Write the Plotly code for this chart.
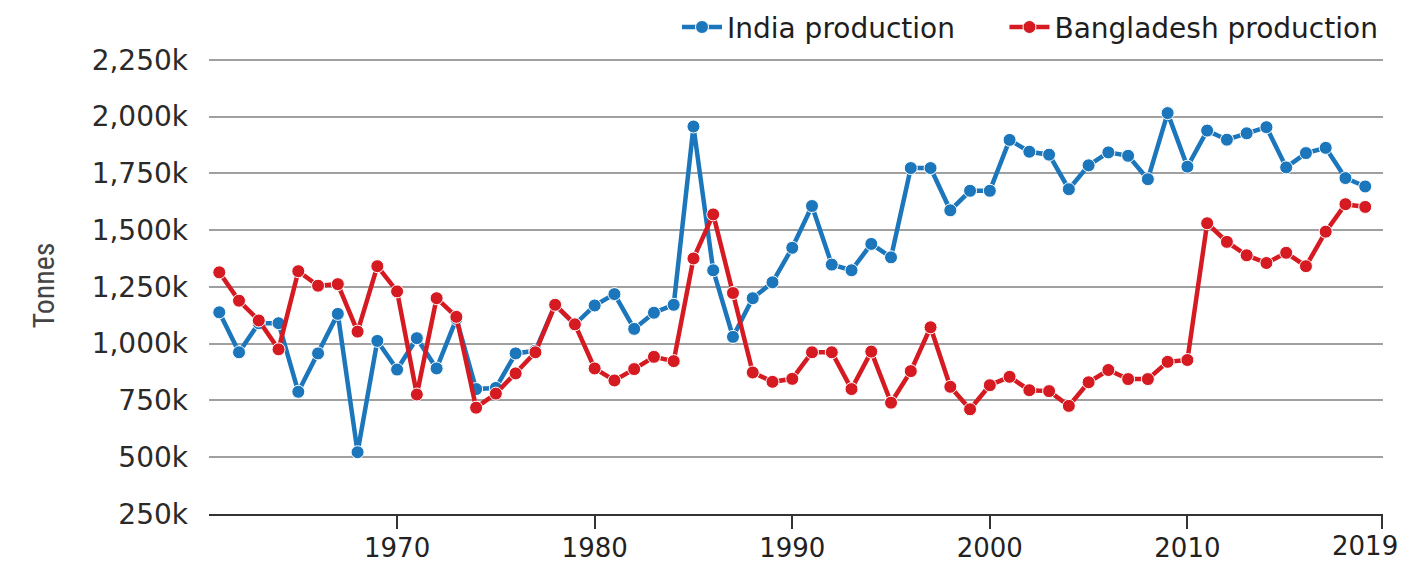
import plotly.graph_objects as go

years = list(range(1961, 2020))

india_k = [1138, 962, 1090, 1090, 788, 957, 1131, 522, 1012, 886,
           1024, 891, 1109, 800, 805, 957, 969, 1171, 1085, 1168,
           1218, 1065, 1136, 1171, 1956, 1323, 1030, 1200, 1270, 1422,
           1606, 1348, 1323, 1439, 1380, 1773, 1773, 1587, 1673, 1673,
           1897, 1845, 1832, 1680, 1785, 1842, 1827, 1724, 2015, 1779,
           1938, 1898, 1926, 1953, 1776, 1839, 1862, 1729, 1692]

bangladesh_k = [1314, 1189, 1102, 975, 1319, 1255, 1262, 1053, 1341, 1230,
                776, 1200, 1118, 718, 780, 869, 962, 1171, 1085, 891,
                838, 888, 942, 923, 1375, 1569, 1223, 873, 832, 845,
                962, 962, 800, 965, 740, 879, 1072, 810, 711, 817,
                854, 795, 791, 726, 830, 884, 844, 844, 920, 928,
                1530, 1448, 1389, 1355, 1400, 1341, 1493, 1614, 1602]

india = [v * 1000 for v in india_k]
bangladesh = [v * 1000 for v in bangladesh_k]

y_ticks = [250000, 500000, 750000, 1000000, 1250000, 1500000, 1750000, 2000000, 2250000]
y_labels = ["250k", "500k", "750k", "1,000k", "1,250k", "1,500k", "1,750k", "2,000k", "2,250k"]
y_range = [250000, 2262000]

x_range = [1960.48, 2019.9]
x_ticks = [1970, 1980, 1990, 2000, 2010, 2019.87]
x_labels = ["1970", "1980", "1990", "2000", "2010", ""]
last_label = "2019"

blue = "#1b76bb"
red = "#d61a22"

pad = "\u00a0" * 5

fig = go.Figure()
fig.add_trace(go.Scatter(
    x=years, y=india, name="India production" + pad, mode="lines+markers",
    line=dict(color=blue, width=4.5),
    marker=dict(color=blue, size=13, line=dict(color="white", width=1)),
))
fig.add_trace(go.Scatter(
    x=years, y=bangladesh, name="Bangladesh production", mode="lines+markers",
    line=dict(color=red, width=4.5),
    marker=dict(color=red, size=13, line=dict(color="white", width=1)),
))

# page body has an 8px margin, so the figure is laid out in 1399 x 557
fig.update_layout(
    width=1399, height=557,
    margin=dict(l=201, r=24, t=49, b=51, autoexpand=False),
    plot_bgcolor="white", paper_bgcolor="white",
    font=dict(family="DejaVu Sans", color="#2a2a2a"),
    showlegend=True,
    legend=dict(
        orientation="h", x=1.0, xanchor="right", y=1.065, yanchor="middle",
        font=dict(family="DejaVu Sans", size=28, color="#1e1e1e"),
        itemwidth=40, traceorder="normal",
    ),
    annotations=[dict(
        x=x_ticks[-1], xref="x", y=0, yref="paper", yanchor="top",
        xanchor="right", xshift=18, yshift=-15, showarrow=False,
        text=last_label, font=dict(family="DejaVu Sans", size=26, color="#222"),
    )],
)
fig.update_xaxes(
    range=x_range, tickvals=x_ticks, ticktext=x_labels,
    showgrid=False, zeroline=False, automargin=False,
    showline=True, linecolor="#333", linewidth=2,
    ticks="outside", ticklen=13, tickwidth=1.5, tickcolor="#333",
    ticklabelstandoff=-3,
    tickfont=dict(family="DejaVu Sans", size=26, color="#222"),
)
fig.update_yaxes(
    range=y_range, tickvals=y_ticks, ticktext=y_labels,
    showgrid=True, gridcolor="#a0a0a0", gridwidth=1.5,
    zeroline=False, showline=False, automargin=False,
    ticklabelstandoff=20,
    tickfont=dict(family="DejaVu Sans", size=28, color="#2a2a2a"),
    title=dict(text="Tonnes", standoff=28,
               font=dict(family="Liberation Sans Narrow, Roboto Condensed, Roboto", size=30, color="#444")),
)

fig.write_html("out.html")
